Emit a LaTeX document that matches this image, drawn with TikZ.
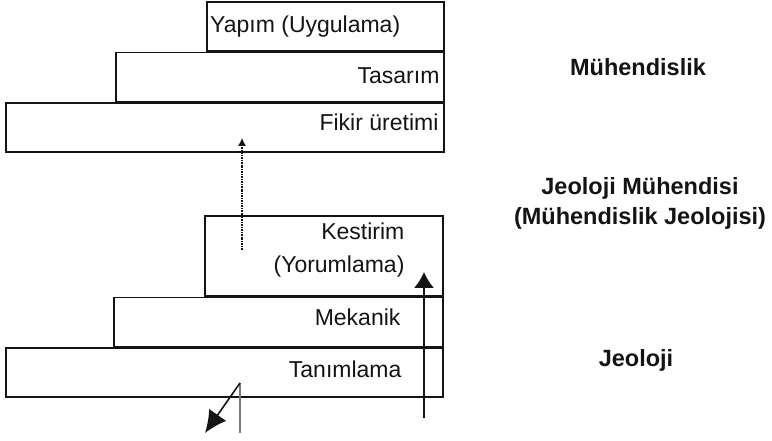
\documentclass[tikz,border=0pt]{standalone}
\usepackage{fontspec}
\setmainfont{Liberation Sans}
\usepackage{xcolor}
\usepackage{tikz}
\usetikzlibrary{arrows.meta,positioning,calc}
\definecolor{ink}{RGB}{20,20,20}
\definecolor{stem}{RGB}{120,120,120}
\tikzset{
  layer/.style={draw=ink,line width=1.6bp,rectangle,inner sep=0pt,
    minimum height=49bp},
  tag/.style={inner sep=0pt,text=ink,align=right,
    font=\fontsize{23bp}{33bp}\selectfont},
  field/.style={inner sep=0pt,text=ink,align=center,
    font=\fontsize{23.5bp}{30bp}\selectfont\bfseries},
  hint/.style={ink,line width=1.1bp,dash pattern=on 2bp off 1bp on 0.8bp off 1bp,
    -{Latex[length=8bp,width=8bp]}},
  rise/.style={ink,line width=1.6bp,-{Latex[length=16bp,width=20bp]}},
  fall/.style={ink,line width=1.6bp,-{Latex[length=22bp,width=21bp]}},
  stemline/.style={stem,line width=2bp}
}

\begin{document}
\begin{tikzpicture}[x=1bp,y=-1bp,node distance=0pt]
  \useasboundingbox (0,0) rectangle (772,441);

  % upper stack
  \node[layer,minimum width=438bp,anchor=south west] (fik) at (5,153) {};
  \node[layer,minimum width=328bp,above left=0pt and 0pt of fik.north east] (tas) {};
  \node[layer,minimum width=237bp,above left=0pt and 0pt of tas.north east] (yap) {};
  \node[tag,anchor=west] (yapT) at ([xshift=4bp]yap.west) {Yapım (Uygulama)};
  \node[tag,anchor=east] (tasT) at ([xshift=-5bp,yshift=1bp]tas.east) {Tasarım};
  \node[tag,anchor=east] (fikT) at ([xshift=-6bp,yshift=5bp]fik.east) {Fikir üretimi};

  % lower stack
  \node[layer,minimum width=437bp,anchor=south west] (tan) at (5,398) {};
  \node[layer,minimum width=329bp,above left=0pt and 0pt of tan.north east] (mek) {};
  \node[layer,minimum width=238bp,minimum height=80bp,above left=0pt and 0pt of mek.north east] (kes) {};
  \node[tag,anchor=east] (kesT) at ([xshift=-39bp,yshift=6bp]kes.east) {Kestirim\\(Yorumlama)};
  \node[tag,anchor=east] (mekT) at ([xshift=-43bp,yshift=5bp]mek.east) {Mekanik};
  \node[tag,anchor=east] (tanT) at ([xshift=-42bp,yshift=3bp]tan.east) {Tanımlama};

  % fields on the right
  \node[field] (muh) at (638,67) {Mühendislik};
  \node[field] (jmu) at (640,203) {Jeoloji Mühendisi\\(Mühendislik Jeolojisi)};
  \node[field] (jeo) at (636,360) {Jeoloji};

  % arrows
  \coordinate (gFrom) at (242,250);
  \coordinate (gTo) at (242,138);
  \draw[hint] (gFrom) -- (gTo);

  \coordinate (rFrom) at (424,418);
  \coordinate (rTo) at (424,272);
  \draw[rise] (rFrom) -- (rTo);

  \coordinate (sFoot) at (240,433);
  \coordinate (sTop) at (240,383);
  \coordinate (sTip) at (205,433);
  \draw[stemline] (sFoot) -- (sTop);
  \draw[fall] (sTop) -- (sTip);
\end{tikzpicture}
\end{document}
